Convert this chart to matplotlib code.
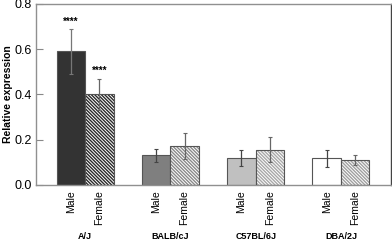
import numpy as np
import matplotlib
matplotlib.use("Agg")
import matplotlib.pyplot as plt
import matplotlib.transforms as mtransforms

plt.rcParams['font.family'] = ['Liberation Sans', 'DejaVu Sans']
plt.rcParams['hatch.linewidth'] = 1.0

# data
strains = ["A/J", "BALB/cJ", "C57BL/6J", "DBA/2J"]
sexes = ["Male", "Female"]
male_vals = [0.59, 0.13, 0.12, 0.118]
male_err = [0.10, 0.028, 0.035, 0.037]
female_vals = [0.40, 0.172, 0.155, 0.11]
female_err = [0.07, 0.058, 0.055, 0.023]
male_colors = ["#333333", "#7f7f7f", "#c0c0c0", "#ffffff"]
female_hatch_colors = ["#2a2a2a", "#8a8a8a", "#a8a8a8", "#a0a0a0"]
male_stars = ["****", "", "", ""]
female_stars = ["****", "", "", ""]

fig = plt.figure(figsize=(3.92, 2.42), dpi=100)
ax = fig.add_axes([0.092, 0.236, 0.905, 0.748])

x = np.arange(len(strains))
w = 0.334

for i in range(len(strains)):
    ax.bar(x[i] - w / 2, male_vals[i], w, color=male_colors[i],
           edgecolor="#555555", linewidth=0.8, zorder=2)
    ax.bar(x[i] + w / 2, female_vals[i], w, color="white",
           edgecolor=female_hatch_colors[i], hatch="\\" * 10, linewidth=0, zorder=2)
    ax.bar(x[i] + w / 2, female_vals[i], w, color="none",
           edgecolor="#555555", linewidth=0.8, zorder=3)
    ax.errorbar(x[i] - w / 2, male_vals[i], yerr=male_err[i], fmt="none",
                ecolor="#777777" if i == 0 else "#444444", elinewidth=0.9,
                capsize=1.5, capthick=0.8, zorder=4)
    ax.errorbar(x[i] + w / 2, female_vals[i], yerr=female_err[i], fmt="none",
                ecolor="#666666", elinewidth=0.9, capsize=1.5, capthick=0.8, zorder=4)
    if male_stars[i]:
        ax.text(x[i] - w / 2, male_vals[i] + male_err[i] + 0.01, male_stars[i],
                ha="center", va="bottom", fontsize=7, fontweight="bold")
    if female_stars[i]:
        ax.text(x[i] + w / 2, female_vals[i] + female_err[i] + 0.01, female_stars[i],
                ha="center", va="bottom", fontsize=7, fontweight="bold")

ax.set_xlim(-0.575, 3.585)
ax.set_ylim(0, 0.8)
ax.set_yticks([0, 0.2, 0.4, 0.6, 0.8])
ax.set_yticklabels(["0.0", "0.2", "0.4", "0.6", "0.8"], fontsize=9)
ax.tick_params(axis="y", direction="in", length=5, width=0.8, color="#888888", pad=3)

xt = np.concatenate([x - w / 2, x + w / 2])
xl = ["Male"] * len(strains) + ["Female"] * len(strains)
ax.set_xticks(xt)
ax.set_xticklabels(xl, rotation=90, fontsize=7.5, va="top")
ax.tick_params(axis="x", length=0, pad=4)

trans = mtransforms.blended_transform_factory(ax.transData, ax.transAxes)
for i, s in enumerate(strains):
    ax.text(x[i], -0.285, s, transform=trans, ha="center", va="center",
            fontsize=6.5, fontweight="bold")

ax.set_ylabel("Relative expression", fontsize=7.5, fontweight="bold")
ax.yaxis.set_label_coords(-0.066, 0.5)

for side in ["top", "left", "bottom"]:
    ax.spines[side].set_color("#909090")
    ax.spines[side].set_linewidth(1.0)
ax.spines["right"].set_color("#444444")
ax.spines["right"].set_linewidth(1.0)

fig.savefig("out.png", dpi=100)
